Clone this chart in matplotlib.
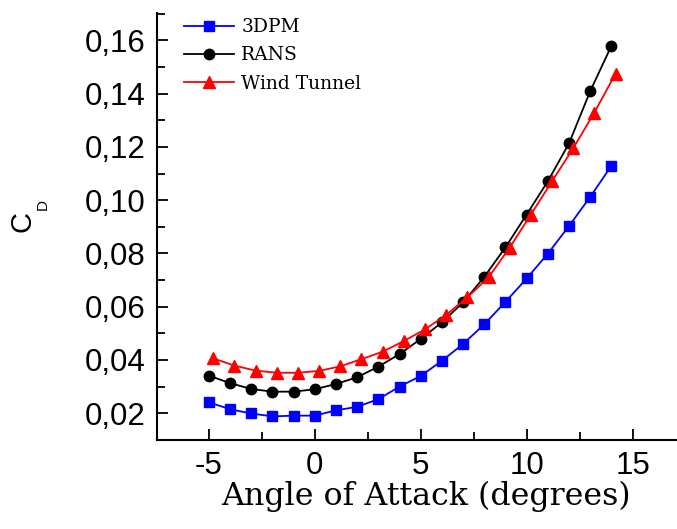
import matplotlib.pyplot as plt
from matplotlib.ticker import FuncFormatter, MultipleLocator

plt.rcParams['axes.unicode_minus'] = False

# drag coefficient vs angle of attack
alpha = [-5, -4, -3, -2, -1, 0, 1, 2, 3, 4, 5, 6, 7, 8, 9, 10, 11, 12, 13, 14]
alpha_wt = [-4.8, -3.8, -2.8, -1.8, -0.8, 0.2, 1.2, 2.2, 3.2, 4.2,
            5.2, 6.2, 7.2, 8.2, 9.2, 10.2, 11.2, 12.2, 13.2, 14.2]

cd_3dpm = [0.0241, 0.0215, 0.0199, 0.0188, 0.0191, 0.0191, 0.0211, 0.0224, 0.0253, 0.0300,
           0.0340, 0.0397, 0.0460, 0.0534, 0.0618, 0.0706, 0.0799, 0.0903, 0.1012, 0.1129]
cd_rans = [0.0341, 0.0313, 0.0291, 0.0281, 0.0281, 0.0290, 0.0310, 0.0335, 0.0375, 0.0422,
           0.0479, 0.0541, 0.0616, 0.0712, 0.0823, 0.0946, 0.1071, 0.1213, 0.1409, 0.1579]
cd_wt = [0.0406, 0.0379, 0.0360, 0.0352, 0.0352, 0.0359, 0.0376, 0.0403, 0.0431, 0.0471,
         0.0515, 0.0569, 0.0635, 0.0710, 0.0822, 0.0946, 0.1071, 0.1195, 0.1329, 0.1475]

fig = plt.figure(figsize=(6.77, 5.29), dpi=100)
ax = fig.add_axes([0.232, 0.168, 0.768, 0.807])

ax.plot(alpha, cd_3dpm, color='#0000ff', marker='s', ms=7, lw=1.3, label='3DPM')
ax.plot(alpha, cd_rans, color='black', marker='o', ms=7.5, lw=1.3, label='RANS')
ax.plot(alpha_wt, cd_wt, color='#ff0000', marker='^', ms=8.5, lw=1.3, label='Wind Tunnel')

ax.set_xlim(-7.45, 17.1)
ax.set_ylim(0.0099, 0.1702)
ax.xaxis.set_major_locator(MultipleLocator(5))
ax.xaxis.set_minor_locator(MultipleLocator(2.5))
ax.yaxis.set_major_locator(MultipleLocator(0.02))
ax.yaxis.set_minor_locator(MultipleLocator(0.01))
ax.yaxis.set_major_formatter(FuncFormatter(lambda v, p: f'{v:.2f}'.replace('.', ',')))

ax.spines['top'].set_visible(False)
ax.spines['right'].set_visible(False)
for s in ('left', 'bottom'):
    ax.spines[s].set_linewidth(1.5)
ax.tick_params(which='both', direction='in', width=1.3)
ax.tick_params(which='major', length=8, labelsize=22.5, pad=8)
ax.tick_params(which='minor', length=6)
for lab in ax.get_xticklabels() + ax.get_yticklabels():
    lab.set_family('Liberation Sans')

ax.set_xlabel('Angle of Attack (degrees)', family='DejaVu Serif', fontsize=22.8, labelpad=0)
ax.xaxis.label.set_x(0.517)

# y label: C with a small subscript D, drawn as two rotated texts
fig.text(23 / 677, 1 - 221 / 529, 'C', family='Liberation Sans', fontsize=21,
         rotation=90, ha='center', va='center')
fig.text(43 / 677, 1 - 204 / 529, 'D', family='Liberation Sans', fontsize=11,
         rotation=90, ha='center', va='center')

ax.legend(loc='upper left', bbox_to_anchor=(0.02, 1.028), frameon=False,
          prop={'family': 'DejaVu Serif', 'size': 13.5},
          handlelength=2.65, handletextpad=0.38, labelspacing=0.55)

plt.savefig('out.png', dpi=100)
